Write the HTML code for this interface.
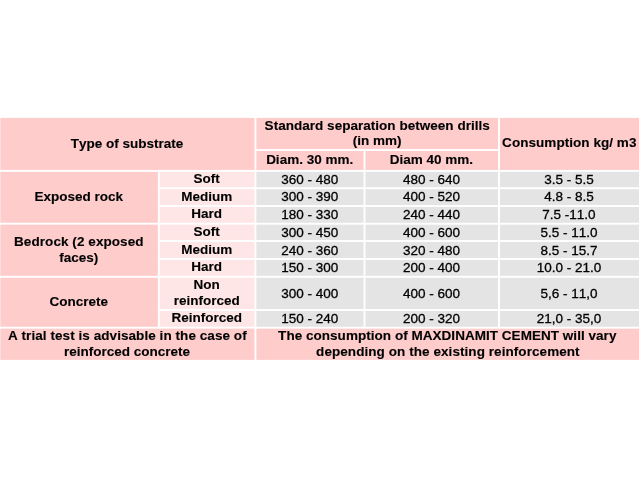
<!DOCTYPE html>
<html><head><meta charset="utf-8"><title>Table</title>
<style>
html,body{margin:0;padding:0;background:#fff;}
body{width:640px;height:480px;overflow:hidden;}
svg{display:block;}
text{font-family:"Liberation Sans",Arial,sans-serif;font-size:13.5px;fill:#000;text-anchor:middle;font-kerning:none;stroke:#000;stroke-width:0.3px;}
.b{font-weight:bold;stroke-width:0.12px;}
</style></head><body>
<svg width="640" height="480" viewBox="0 0 640 480">
<rect width="640" height="480" fill="#fff"/>
<rect x="0.30" y="117.90" width="254.15" height="52.05" fill="#ffcccc"/>
<rect x="256.35" y="117.90" width="241.70" height="31.15" fill="#ffcccc"/>
<rect x="256.35" y="150.95" width="107.20" height="19.00" fill="#ffcccc"/>
<rect x="365.45" y="150.95" width="132.60" height="19.00" fill="#ffcccc"/>
<rect x="499.95" y="117.90" width="139.05" height="52.05" fill="#ffcccc"/>
<rect x="0.30" y="171.85" width="157.55" height="50.90" fill="#ffcccc"/>
<rect x="0.30" y="224.65" width="157.55" height="51.20" fill="#ffcccc"/>
<rect x="0.30" y="277.75" width="157.55" height="49.00" fill="#ffcccc"/>
<rect x="159.75" y="171.85" width="94.70" height="15.40" fill="#ffe6e6"/>
<rect x="256.35" y="171.85" width="107.20" height="15.40" fill="#e4e4e4"/>
<rect x="365.45" y="171.85" width="132.60" height="15.40" fill="#e4e4e4"/>
<rect x="499.95" y="171.85" width="139.05" height="15.40" fill="#e4e4e4"/>
<rect x="159.75" y="189.15" width="94.70" height="15.90" fill="#ffe6e6"/>
<rect x="256.35" y="189.15" width="107.20" height="15.90" fill="#e4e4e4"/>
<rect x="365.45" y="189.15" width="132.60" height="15.90" fill="#e4e4e4"/>
<rect x="499.95" y="189.15" width="139.05" height="15.90" fill="#e4e4e4"/>
<rect x="159.75" y="206.95" width="94.70" height="15.80" fill="#ffe6e6"/>
<rect x="256.35" y="206.95" width="107.20" height="15.80" fill="#e4e4e4"/>
<rect x="365.45" y="206.95" width="132.60" height="15.80" fill="#e4e4e4"/>
<rect x="499.95" y="206.95" width="139.05" height="15.80" fill="#e4e4e4"/>
<rect x="159.75" y="224.65" width="94.70" height="15.40" fill="#ffe6e6"/>
<rect x="256.35" y="224.65" width="107.20" height="15.40" fill="#e4e4e4"/>
<rect x="365.45" y="224.65" width="132.60" height="15.40" fill="#e4e4e4"/>
<rect x="499.95" y="224.65" width="139.05" height="15.40" fill="#e4e4e4"/>
<rect x="159.75" y="241.95" width="94.70" height="16.10" fill="#ffe6e6"/>
<rect x="256.35" y="241.95" width="107.20" height="16.10" fill="#e4e4e4"/>
<rect x="365.45" y="241.95" width="132.60" height="16.10" fill="#e4e4e4"/>
<rect x="499.95" y="241.95" width="139.05" height="16.10" fill="#e4e4e4"/>
<rect x="159.75" y="259.95" width="94.70" height="15.90" fill="#ffe6e6"/>
<rect x="256.35" y="259.95" width="107.20" height="15.90" fill="#e4e4e4"/>
<rect x="365.45" y="259.95" width="132.60" height="15.90" fill="#e4e4e4"/>
<rect x="499.95" y="259.95" width="139.05" height="15.90" fill="#e4e4e4"/>
<rect x="159.75" y="277.75" width="94.70" height="31.30" fill="#ffe6e6"/>
<rect x="256.35" y="277.75" width="107.20" height="31.30" fill="#e4e4e4"/>
<rect x="365.45" y="277.75" width="132.60" height="31.30" fill="#e4e4e4"/>
<rect x="499.95" y="277.75" width="139.05" height="31.30" fill="#e4e4e4"/>
<rect x="159.75" y="310.95" width="94.70" height="15.80" fill="#ffe6e6"/>
<rect x="256.35" y="310.95" width="107.20" height="15.80" fill="#e4e4e4"/>
<rect x="365.45" y="310.95" width="132.60" height="15.80" fill="#e4e4e4"/>
<rect x="499.95" y="310.95" width="139.05" height="15.80" fill="#e4e4e4"/>
<rect x="0.30" y="328.65" width="254.15" height="31.25" fill="#ffcccc"/>
<rect x="256.35" y="328.65" width="382.65" height="31.25" fill="#ffcccc"/>
<text x="127.08" y="148.00" class="b">Type of substrate</text>
<text x="377.20" y="130.00" class="b" textLength="225.2">Standard separation between drills</text>
<text x="377.20" y="145.00" class="b">(in mm)</text>
<text x="309.65" y="164.00" class="b">Diam. 30 mm.</text>
<text x="431.45" y="164.00" class="b">Diam 40 mm.</text>
<text x="569.27" y="147.00" class="b" textLength="134.3">Consumption kg/ m3</text>
<text x="78.78" y="201.00" class="b">Exposed rock</text>
<text x="78.78" y="246.00" class="b" textLength="129.5">Bedrock (2 exposed</text>
<text x="78.78" y="262.00" class="b">faces)</text>
<text x="78.78" y="306.00" class="b">Concrete</text>
<text x="206.70" y="183.00" class="b">Soft</text>
<text x="309.65" y="184.00">360 - 480</text>
<text x="431.45" y="184.00">480 - 640</text>
<text x="568.98" y="184.00">3.5 - 5.5</text>
<text x="206.70" y="201.00" class="b">Medium</text>
<text x="309.65" y="201.00">300 - 390</text>
<text x="431.45" y="201.00">400 - 520</text>
<text x="568.98" y="201.00">4.8 - 8.5</text>
<text x="206.70" y="218.00" class="b">Hard</text>
<text x="309.65" y="219.00">180 - 330</text>
<text x="431.45" y="219.00">240 - 440</text>
<text x="568.98" y="219.00">7.5 -11.0</text>
<text x="206.70" y="236.00" class="b">Soft</text>
<text x="309.65" y="237.00">300 - 450</text>
<text x="431.45" y="237.00">400 - 600</text>
<text x="568.98" y="237.00">5.5 - 11.0</text>
<text x="206.70" y="254.00" class="b">Medium</text>
<text x="309.65" y="255.00">240 - 360</text>
<text x="431.45" y="255.00">320 - 480</text>
<text x="568.98" y="255.00">8.5 - 15.7</text>
<text x="206.70" y="271.00" class="b">Hard</text>
<text x="309.65" y="272.00">150 - 300</text>
<text x="431.45" y="272.00">200 - 400</text>
<text x="568.98" y="272.00">10.0 - 21.0</text>
<text x="206.70" y="289.00" class="b">Non</text>
<text x="206.70" y="305.00" class="b">reinforced</text>
<text x="309.65" y="298.00">300 - 400</text>
<text x="431.45" y="298.00">400 - 600</text>
<text x="568.98" y="298.00">5,6 - 11,0</text>
<text x="206.70" y="322.00" class="b">Reinforced</text>
<text x="309.65" y="323.00">150 - 240</text>
<text x="431.45" y="323.00">200 - 320</text>
<text x="568.98" y="323.00">21,0 - 35,0</text>
<text x="127.30" y="340.00" class="b" textLength="238.7">A trial test is advisable in the case of</text>
<text x="127.08" y="356.00" class="b">reinforced concrete</text>
<text x="447.25" y="340.00" class="b" textLength="338.3">The consumption of MAXDINAMIT CEMENT will vary</text>
<text x="447.85" y="356.00" class="b" textLength="263.5">depending on the existing reinforcement</text>
</svg>
</body></html>
